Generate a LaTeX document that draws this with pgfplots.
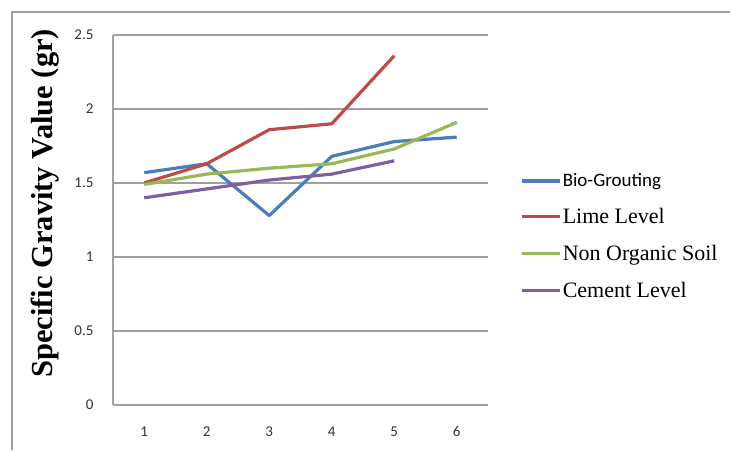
\documentclass[border=0pt]{standalone}
\usepackage{fontspec}
\usepackage{pgfplots}
\pgfplotsset{compat=1.18}
\setmainfont{Liberation Serif}
\newfontfamily\carlito{Carlito}
\definecolor{sblue}{HTML}{4A7EBB}
\definecolor{sred}{HTML}{BE4B48}
\definecolor{sgreen}{HTML}{98B954}
\definecolor{spurple}{HTML}{7D60A0}
\definecolor{gridgray}{HTML}{A0A0A0}
\begin{document}
\begin{tikzpicture}
\useasboundingbox (-113pt,-45pt) rectangle (617pt,405pt);
\draw[gridgray, line width=1.3pt] (-101pt,-45pt) -- (-101pt,393pt) -- (617pt,393pt);
\begin{axis}[
  at={(0pt,0pt)}, anchor=south west,
  scale only axis, width=375pt, height=370pt,
  xmin=0.5, xmax=6.5, ymin=0, ymax=2.5,
  xtick={1,2,3,4,5,6}, ytick={0,0.5,1,1.5,2,2.5},
  yticklabels={0,0.5,1,1.5,2,2.5},
  major tick length=0pt,
  axis x line*=bottom, axis y line*=left,
  axis line style={gridgray, line width=1.3pt, -},
  ymajorgrids, grid style={gridgray, line width=1.3pt},
  /pgf/number format/assume math mode=true,
  ticklabel style={font=\carlito\fontsize{15}{17}\selectfont, text=black!80},
  yticklabel style={xshift=-16pt},
  xticklabel style={yshift=-18pt},
  ylabel={\textbf{Specific Gravity Value (gr)}},
  ylabel style={font=\fontsize{30.5}{33}\selectfont, at={(axis description cs:-0.182,0.545)}, anchor=center},
  legend style={at={(axis description cs:1.085,0.63)}, anchor=north west, draw=none, fill=none,
    font=\fontsize{22}{24}\selectfont, row sep=17pt, inner sep=0pt, nodes={inner sep=1.5pt, anchor=west}},
  legend cell align=left,
  legend image code/.code={\draw[#1, line width=3.2pt] (0pt,0pt) -- (38pt,0pt);},
  every axis plot/.append style={line width=3.2pt, line join=round, no markers},
]
\addplot[sblue] coordinates {(1,1.57) (2,1.63) (3,1.28) (4,1.68) (5,1.78) (6,1.81)};
\addlegendentry{\carlito\fontsize{19}{21}\selectfont Bio-Grouting}
\addplot[sred] coordinates {(1,1.50) (2,1.63) (3,1.86) (4,1.90) (5,2.36)};
\addlegendentry{Lime Level}
\addplot[sgreen] coordinates {(1,1.49) (2,1.56) (3,1.60) (4,1.63) (5,1.73) (6,1.91)};
\addlegendentry{Non Organic Soil}
\addplot[spurple] coordinates {(1,1.40) (2,1.46) (3,1.52) (4,1.56) (5,1.65)};
\addlegendentry{Cement Level}
\end{axis}
\end{tikzpicture}
\end{document}
